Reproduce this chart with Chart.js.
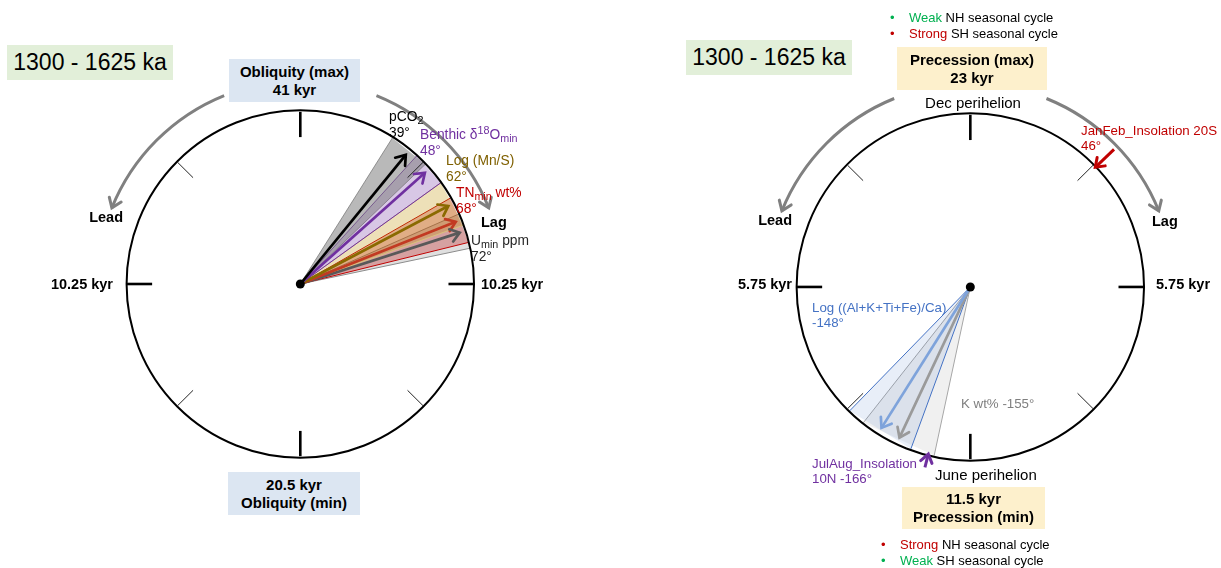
<!DOCTYPE html>
<html>
<head>
<meta charset="utf-8">
<title>Phase wheels, 1300 - 1625 ka</title>
<script src="https://cdn.jsdelivr.net/npm/chart.js@4.4.1/dist/chart.umd.min.js"></script>
<style>
  html, body { margin: 0; padding: 0; background: #fff; }
  body { position: relative; width: 1221px; height: 568px; overflow: hidden;
         font-family: Arial, "Liberation Sans", Helvetica, sans-serif; color: #000; }
  canvas { position: absolute; left: 0; top: 0; }
  #labels div { position: absolute; white-space: nowrap; }
  .t { font-size: 13.3px; line-height: 15px; }
  .t.big { font-size: 13.8px; line-height: 15.5px; }
  .b { font-size: 14.5px; font-weight: bold; line-height: 16px; transform: translateY(-50%); }
  .box { text-align: center; font-weight: bold; font-size: 15px; line-height: 18px; box-sizing: border-box; }
  .era { background: #e2efd9; font-size: 23px; text-align: center; }
  .peri { font-size: 15px; line-height: 16px; }
  .bul { font-size: 13px; line-height: 16px; }
  .bul .d { display: inline-block; width: 19px; }
  sub, sup { font-size: 0.78em; line-height: 0; }
  sub { vertical-align: -0.3em; }
  sup { vertical-align: 0.45em; }
</style>
</head>
<body>
<canvas id="wheelObl" width="1221" height="568"></canvas>
<canvas id="wheelPrec" width="1221" height="568"></canvas>
<div id="labels"></div>
<script>
// ---------------- data ----------------
const intervalLabel = '1300 - 1625 ka';

// Obliquity band: phase (deg) clockwise = lag behind obliquity maximum
const oblSeries = ['pCO<sub>2</sub>', 'Benthic δ<sup>18</sup>O<sub>min</sub>', 'Log (Mn/S)', 'TN<sub>min</sub> wt%', 'U<sub>min</sub> ppm'];
const oblPhase = [39, 48, 62, 68, 72];
const oblPhaseLow = [32, 42, 54, 60, 66];
const oblPhaseHigh = [46, 54, 70, 76, 78];

// Precession band: phase (deg) relative to precession maximum (Dec perihelion)
const precSeries = ['Log ((Al+K+Ti+Fe)/Ca)', 'K wt%'];
const precPhase = [-148, -155];
const precPhaseLow = [-160, -168];
const precPhaseHigh = [-136, -142];

// Insolation reference phases on the precession wheel
const insolSeries = ['JanFeb_Insolation 20S', 'JulAug_Insolation 10N'];
const insolPhase = [46, -166];

// Cycle positions: top, right, bottom, left
const oblTickLabels = ['41 kyr', '10.25 kyr', '20.5 kyr', '10.25 kyr'];
const precTickLabels = ['23 kyr', '5.75 kyr', '11.5 kyr', '5.75 kyr'];

// ---------------- styles / layout ----------------
const W = 1221, H = 568, R = 175;
const oblCenter = [298, 284];
const precCenter = [973, 287];

const oblStyle = [
  { line: '#000000', fill: 'rgba(128,128,128,0.55)', edge: 'rgba(110,110,110,0.7)', text: '#000000' },
  { line: '#7030a0', fill: 'rgba(112,48,160,0.27)', edge: '#7030a0', text: '#7030a0' },
  { line: '#8a6a00', fill: 'rgba(191,144,0,0.28)', edge: '#d8c27a', text: '#7f6000' },
  { line: '#c23a22', fill: 'rgba(192,0,0,0.28)', edge: '#c00000', text: '#c00000' },
  { line: '#595959', fill: 'rgba(128,128,128,0.25)', edge: '#8c8c8c', text: '#262626' }
];
const precStyle = [
  { line: '#7ea3db', fill: 'rgba(68,114,196,0.12)', edge: '#4472c4', text: '#4472c4' },
  { line: '#9a9a9a', fill: 'rgba(150,150,150,0.14)', edge: '#a6a6a6', text: '#7f7f7f' }
];
const insolStyle = [
  { line: '#c00000', text: '#c00000', tail: 1.15 },
  { line: '#7030a0', text: '#7030a0', tail: 1.08 }
];

function polar(deg, r) {
  const a = deg * Math.PI / 180;
  return { x: r * Math.sin(a), y: r * Math.cos(a) };
}

function phaseDatasets(names, phase, low, high, styles) {
  const sets = [];
  names.forEach((n, i) => {
    const s = styles[i];
    // confidence wedge: edges drawn, closed for filling
    sets.push({
      label: n + ' range',
      data: [polar(low[i], 1), { x: 0, y: 0 }, polar(high[i], 1)],
      showLine: true, fill: 'shape', tension: 0,
      backgroundColor: s.fill, borderColor: s.edge, borderWidth: 1,
      pointRadius: 0, order: 20
    });
    // mean phase arrow
    sets.push({
      label: n,
      data: [{ x: 0, y: 0 }, polar(phase[i], 0.965)],
      showLine: true, fill: false, tension: 0,
      borderColor: s.line, borderWidth: 2.7, pointRadius: 0,
      arrowHead: true, headSize: 11, order: 5
    });
  });
  return sets;
}

function insolDatasets() {
  return insolSeries.map((n, i) => ({
    label: n,
    data: [polar(insolPhase[i], insolStyle[i].tail), polar(insolPhase[i], 1.0)],
    showLine: true, fill: false, tension: 0,
    borderColor: insolStyle[i].line, borderWidth: 3, pointRadius: 0,
    arrowHead: true, headSize: 10, order: 5
  }));
}

const centerDot = {
  label: 'origin', data: [{ x: 0, y: 0 }], showLine: false,
  pointRadius: 4.5, pointBackgroundColor: '#000', pointBorderWidth: 0, order: 0
};

function chevron(ctx, tx, ty, dx, dy, len, color, width) {
  const m = Math.hypot(dx, dy), ux = dx / m, uy = dy / m;
  const c = Math.cos(0.62), s = Math.sin(0.62);
  const bx = -ux, by = -uy;
  ctx.beginPath();
  ctx.moveTo(tx + len * (bx * c - by * s), ty + len * (bx * s + by * c));
  ctx.lineTo(tx, ty);
  ctx.lineTo(tx + len * (bx * c + by * s), ty + len * (-bx * s + by * c));
  ctx.strokeStyle = color; ctx.lineWidth = width;
  ctx.lineJoin = 'miter'; ctx.lineCap = 'round';
  ctx.stroke();
}

// rim, cycle ticks, lead/lag arcs and arrow heads
const wheelDecor = {
  id: 'wheelDecor',
  afterDatasetsDraw(chart, args, opts) {
    const ctx = chart.ctx, xs = chart.scales.x, ys = chart.scales.y;
    const cx = xs.getPixelForValue(0), cy = ys.getPixelForValue(0);
    const rp = xs.getPixelForValue(1) - cx;
    const pt = (deg, r) => { const p = polar(deg, r); return [xs.getPixelForValue(p.x), ys.getPixelForValue(p.y)]; };
    ctx.save();
    ctx.beginPath();
    ctx.arc(cx, cy, rp, 0, Math.PI * 2);
    ctx.lineWidth = 2; ctx.strokeStyle = '#000'; ctx.stroke();

    for (let d = 0; d < 360; d += 45) {
      const major = d % 90 === 0;
      const [x1, y1] = pt(d, 1), [x2, y2] = pt(d, major ? 0.853 : 0.873);
      ctx.beginPath(); ctx.moveTo(x1, y1); ctx.lineTo(x2, y2);
      ctx.lineWidth = major ? 2.6 : 1; ctx.strokeStyle = major ? '#000' : '#222';
      ctx.lineCap = 'butt'; ctx.stroke();
    }

    const ar = opts.arcRadius * rp;
    for (const [a0, a1] of [opts.lead, opts.lag]) {
      const ccw = a1 < a0;
      ctx.beginPath();
      ctx.arc(cx, cy, ar, (a0 - 90) * Math.PI / 180, (a1 - 90) * Math.PI / 180, ccw);
      ctx.strokeStyle = '#808080'; ctx.lineWidth = 3; ctx.lineCap = 'butt'; ctx.stroke();
      const t = a1 * Math.PI / 180;
      const tx = cx + ar * Math.sin(t), ty = cy - ar * Math.cos(t);
      const dx = ccw ? -Math.cos(t) : Math.cos(t), dy = ccw ? -Math.sin(t) : Math.sin(t);
      chevron(ctx, tx, ty, dx, dy, 11, '#808080', 3);
    }

    chart.data.datasets.forEach((ds, i) => {
      if (!ds.arrowHead) return;
      const pts = chart.getDatasetMeta(i).data;
      const a = pts[pts.length - 2], b = pts[pts.length - 1];
      chevron(ctx, b.x, b.y, b.x - a.x, b.y - a.y, ds.headSize, ds.borderColor, ds.borderWidth);
    });
    ctx.restore();
  }
};

function makeWheel(id, center, datasets) {
  const [cx, cy] = center;
  return new Chart(document.getElementById(id), {
    type: 'scatter',
    data: { datasets },
    options: {
      responsive: false, animation: false, events: [],
      layout: { padding: 0 },
      scales: {
        x: { type: 'linear', display: false, min: -cx / R, max: (W - cx) / R },
        y: { type: 'linear', display: false, min: -(H - cy) / R, max: cy / R }
      },
      plugins: {
        legend: { display: false }, tooltip: { enabled: false },
        wheelDecor: { arcRadius: 1.17, lead: [-22, -68], lag: [22, 68] }
      }
    },
    plugins: [wheelDecor]
  });
}

makeWheel('wheelObl', oblCenter,
  phaseDatasets(oblSeries, oblPhase, oblPhaseLow, oblPhaseHigh, oblStyle).concat([centerDot]));
makeWheel('wheelPrec', precCenter,
  phaseDatasets(precSeries, precPhase, precPhaseLow, precPhaseHigh, precStyle)
    .concat(insolDatasets(), [Object.assign({}, centerDot)]));

// ---------------- text ----------------
const layer = document.getElementById('labels');
function addText(cls, html, css) {
  const d = document.createElement('div');
  d.className = cls; d.innerHTML = html;
  for (const k in css) d.style[k] = typeof css[k] === 'number' ? css[k] + 'px' : css[k];
  layer.appendChild(d);
  return d;
}
function phaseLabel(name, ph, mode) {
  if (mode === 'one') return `${name} ${ph}°`;
  if (mode === 'split') { const k = name.lastIndexOf(' '); return `${name.slice(0, k)}<br>${name.slice(k + 1)} ${ph}°`; }
  return `${name}<br>${ph}°`;
}

// interval tags
addText('era', intervalLabel, { left: 7, top: 45, width: 166, height: 35, lineHeight: '35px' });
addText('era', intervalLabel, { left: 686, top: 40, width: 166, height: 35, lineHeight: '35px' });

// obliquity wheel
addText('box', `Obliquity (max)<br>${oblTickLabels[0]}`, { left: 229, top: 59, width: 131, height: 43, paddingTop: '4px', background: '#dce6f2' });
addText('box', `${oblTickLabels[2]}<br>Obliquity (min)`, { left: 228, top: 472, width: 132, height: 43, paddingTop: '4px', background: '#dce6f2' });
addText('b', oblTickLabels[1], { left: oblCenter[0] + R + 8, top: oblCenter[1] });
addText('b', oblTickLabels[3], { right: W - (oblCenter[0] - R - 10), top: oblCenter[1] });
addText('b', 'Lead', { right: W - 123, top: 217 });
addText('b', 'Lag', { left: 481, top: 222 });

const oblLabelPos = [[389, 109], [420, 127], [446, 153], [456, 185], [471, 233]];
oblSeries.forEach((n, i) => addText('t big', phaseLabel(n, oblPhase[i]),
  { left: oblLabelPos[i][0], top: oblLabelPos[i][1], color: oblStyle[i].text }));

// precession wheel
addText('bul', '<span class="d" style="color:#00b050">•</span><span style="color:#00b050">Weak</span> NH seasonal cycle', { left: 890, top: 10 });
addText('bul', '<span class="d" style="color:#c00000">•</span><span style="color:#c00000">Strong</span> SH seasonal cycle', { left: 890, top: 26 });
addText('box', `Precession (max)<br>${precTickLabels[0]}`, { left: 897, top: 47, width: 150, height: 43, paddingTop: '4px', background: '#fdf0cc' });
addText('peri', 'Dec perihelion', { left: 898, width: 150, top: 95, textAlign: 'center' });
addText('peri', 'June perihelion', { left: 935, top: 467 });
addText('box', `${precTickLabels[2]}<br>Precession (min)`, { left: 902, top: 487, width: 143, height: 42, paddingTop: '3px', background: '#fdf0cc' });
addText('bul', '<span class="d" style="color:#c00000">•</span><span style="color:#c00000">Strong</span> NH seasonal cycle', { left: 881, top: 537 });
addText('bul', '<span class="d" style="color:#00b050">•</span><span style="color:#00b050">Weak</span> SH seasonal cycle', { left: 881, top: 553 });
addText('b', precTickLabels[1], { left: precCenter[0] + R + 8, top: precCenter[1] - 3 });
addText('b', precTickLabels[3], { right: W - (precCenter[0] - R - 6), top: precCenter[1] - 3 });
addText('b', 'Lead', { right: W - 792, top: 220 });
addText('b', 'Lag', { left: 1152, top: 221 });

const precLabelPos = [[812, 300, 'two'], [961, 396, 'one']];
precSeries.forEach((n, i) => addText('t', phaseLabel(n, precPhase[i], precLabelPos[i][2]),
  { left: precLabelPos[i][0], top: precLabelPos[i][1], color: precStyle[i].text }));

const insolLabelPos = [[1081, 123, 'two'], [812, 456, 'split']];
insolSeries.forEach((n, i) => addText('t', phaseLabel(n, insolPhase[i], insolLabelPos[i][2]),
  { left: insolLabelPos[i][0], top: insolLabelPos[i][1], color: insolStyle[i].text }));
</script>
</body>
</html>
